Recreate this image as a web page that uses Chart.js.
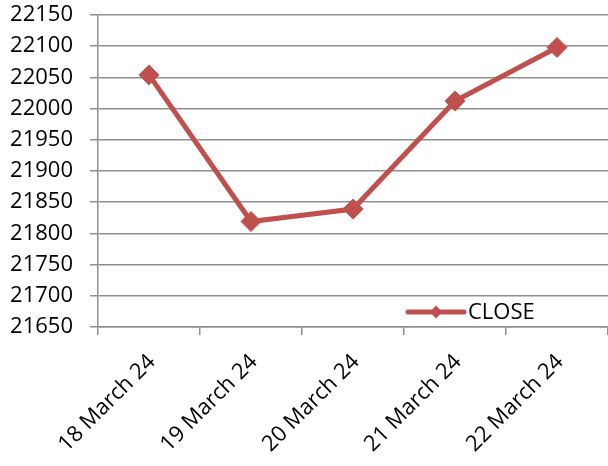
<!DOCTYPE html>
<html>
<head>
<meta charset="utf-8">
<script src="https://cdn.jsdelivr.net/npm/chart.js@4"></script>
<style>
  html, body { margin: 0; padding: 0; background: #ffffff; }
  #wrap { width: 608px; height: 466px; }
</style>
</head>
<body>
<div id="wrap"><canvas id="c" width="608" height="466"></canvas></div>
<script>
// Closing values for the week
const categories = ['18 March 24', '19 March 24', '20 March 24', '21 March 24', '22 March 24'];
const closeValues = [22054, 21819, 21839, 22012, 22098];
const seriesName = 'CLOSE';
const yMin = 21650;
const yMax = 22150;
const yStep = 50;

const RED = '#C0504D';
const GRID = '#8f8f8f';
const FONT = { family: '"Open Sans", "Liberation Sans", sans-serif', size: 22 };

// Legend drawn inside the plot area, lower right
const insideLegend = {
  id: 'insideLegend',
  afterDatasetsDraw(chart) {
    const ctx = chart.ctx;
    const area = chart.chartArea;
    const ds = chart.data.datasets[0];
    const y = area.bottom - 15;
    const x0 = area.right - 200;
    const x1 = area.right - 144;
    ctx.save();
    ctx.strokeStyle = ds.borderColor;
    ctx.lineWidth = 5;
    ctx.lineCap = 'round';
    ctx.beginPath();
    ctx.moveTo(x0, y);
    ctx.lineTo(x1, y);
    ctx.stroke();
    const cx = (x0 + x1) / 2, r = 6.5;
    ctx.fillStyle = ds.backgroundColor;
    ctx.beginPath();
    ctx.moveTo(cx - r, y);
    ctx.lineTo(cx, y - r);
    ctx.lineTo(cx + r, y);
    ctx.lineTo(cx, y + r);
    ctx.closePath();
    ctx.fill();
    ctx.fillStyle = '#000000';
    ctx.font = FONT.size + 'px ' + FONT.family;
    ctx.textBaseline = 'middle';
    ctx.textAlign = 'left';
    ctx.fillText(ds.label, x1 + 4, y + 1);
    ctx.restore();
  }
};

new Chart(document.getElementById('c'), {
  type: 'line',
  data: {
    labels: categories,
    datasets: [{
      label: seriesName,
      data: closeValues,
      borderColor: RED,
      backgroundColor: RED,
      borderWidth: 5,
      pointStyle: 'rectRot',
      pointRadius: 10,
      pointHoverRadius: 10,
      pointBorderWidth: 1,
      pointBorderColor: RED,
      pointBackgroundColor: RED,
      tension: 0,
      fill: false,
      clip: false
    }]
  },
  options: {
    responsive: false,
    animation: false,
    devicePixelRatio: 1,
    layout: { autoPadding: false, padding: { top: 15, right: 0, left: 0, bottom: 0 } },
    plugins: {
      legend: { display: false },
      tooltip: { enabled: false }
    },
    scales: {
      x: {
        offset: true,
        afterFit(scale) {
          scale.height = 139;
          scale.paddingLeft = 0;
          scale.paddingRight = 0;
        },
        grid: {
          offset: true,
          drawOnChartArea: false,
          drawTicks: true,
          tickLength: 8,
          color: GRID,
          lineWidth: 1.5
        },
        border: { display: true, color: GRID, width: 1.5 },
        ticks: {
          color: '#000000',
          font: FONT,
          maxRotation: 45,
          minRotation: 45,
          padding: 14,
          labelOffset: 3,
          autoSkip: false
        }
      },
      y: {
        min: yMin,
        max: yMax,
        afterFit(scale) {
          scale.width = 98;
          scale.paddingTop = 0;
          scale.paddingBottom = 0;
        },
        grid: {
          color: GRID,
          lineWidth: 1.5,
          drawTicks: true,
          tickLength: 8
        },
        border: { display: true, color: GRID, width: 1.5 },
        ticks: {
          stepSize: yStep,
          color: '#000000',
          font: FONT,
          padding: 17,
          callback: (v) => String(v)
        }
      }
    }
  },
  plugins: [insideLegend]
});
</script>
</body>
</html>
